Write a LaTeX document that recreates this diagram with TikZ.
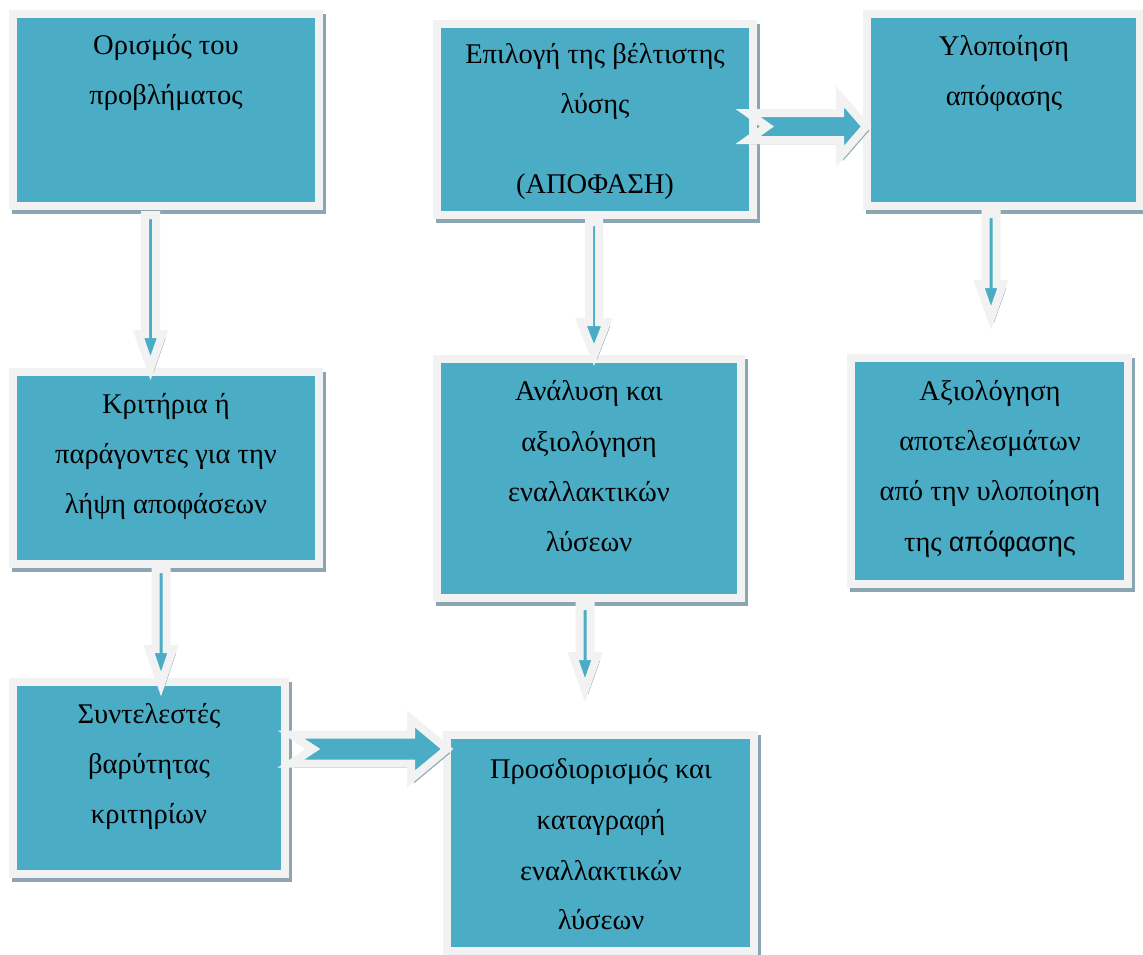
\documentclass[tikz,border=0pt]{standalone}
\usepackage{fontspec}
\setmainfont{Liberation Serif}
\newfontfamily\sansgr{Liberation Sans}
\usetikzlibrary{calc}
\definecolor{boxblue}{HTML}{4BACC6}
\definecolor{frameg}{HTML}{F2F2F2}
\definecolor{shadowc}{HTML}{8BA6B2}
\tikzset{
  shad/.style={preaction={draw=shadowc, fill=shadowc, transform canvas={xshift=3pt,yshift=-4pt}}},
  box/.style={shape=rectangle, draw=frameg, fill=boxblue, line width=8pt, inner sep=0pt, outer sep=0pt, shad},
  blk/.style={draw=frameg, fill=boxblue, line width=8pt, line join=miter, miter limit=20, shad},
  txt/.style={anchor=base, inner sep=0pt, font=\fontsize{28.5}{34}\selectfont}
}
\newcommand\vblk[5]{%
  \draw[blk] let \p1=(#1), \p2=(#2) in
    (\x1-#3pt,\y1) -- (\x1-#3pt,\y2+#5pt) -- (\x1-#4pt,\y2+#5pt) -- (\x1,\y2)
    -- (\x1+#4pt,\y2+#5pt) -- (\x1+#3pt,\y2+#5pt) -- (\x1+#3pt,\y1) -- cycle;}
\newcommand\hblk[6]{%
  \draw[blk] let \p1=(#1), \p2=(#2) in
    (\x1,\y1+#3pt) -- (\x2-#5pt,\y1+#3pt) -- (\x2-#5pt,\y1+#4pt) -- (\x2,\y1)
    -- (\x2-#5pt,\y1-#4pt) -- (\x2-#5pt,\y1-#3pt) -- (\x1,\y1-#3pt) -- (\x1+#6pt,\y1) -- cycle;}
\begin{document}
\begin{tikzpicture}[x=1pt,y=-1pt]
\useasboundingbox (0,0) rectangle (1143,954);
% boxes
\node[box, minimum width=306pt, minimum height=192pt] (b1) at (166,110) {};
\node[box, minimum width=306pt, minimum height=192pt] (b2) at (166,468) {};
\node[box, minimum width=272pt, minimum height=192pt] (b3) at (149,778) {};
\node[box, minimum width=316pt, minimum height=191pt] (b4) at (595,119.5) {};
\node[box, minimum width=304pt, minimum height=239pt] (b5) at (589,478.5) {};
\node[box, minimum width=307pt, minimum height=216pt] (b6) at (600.5,843) {};
\node[box, minimum width=273pt, minimum height=192pt] (b7) at (1003.5,110) {};
\node[box, minimum width=277pt, minimum height=226pt] (b8) at (989.5,471) {};
% texts
\node[txt] (t1a) at (166,54) {Ορισμός του};
\node[txt] (t1b) at (166,104) {προβλήματος};
\node[txt] (t2a) at (166,413) {Κριτήρια ή};
\node[txt] (t2b) at (166,463) {παράγοντες για την};
\node[txt] (t2c) at (166,513) {λήψη αποφάσεων};
\node[txt] (t3a) at (149,723) {Συντελεστές};
\node[txt] (t3b) at (149,773) {βαρύτητας};
\node[txt] (t3c) at (149,823) {κριτηρίων};
\node[txt] (t4a) at (595,63) {Επιλογή της βέλτιστης};
\node[txt] (t4b) at (595,113) {λύσης};
\node[txt] (t4c) at (595,193) {(ΑΠΟΦΑΣΗ)};
\node[txt] (t5a) at (589,400) {Ανάλυση και};
\node[txt] (t5b) at (589,451) {αξιολόγηση};
\node[txt] (t5c) at (589,501) {εναλλακτικών};
\node[txt] (t5d) at (589,551) {λύσεων};
\node[txt] (t6a) at (601,778) {Προσδιορισμός και};
\node[txt] (t6b) at (601,829) {καταγραφή};
\node[txt] (t6c) at (601,880) {εναλλακτικών};
\node[txt] (t6d) at (601,929) {λύσεων};
\node[txt] (t7a) at (1004,55) {Υλοποίηση};
\node[txt] (t7b) at (1004,105) {απόφασης};
\node[txt] (t8a) at (990,400) {Αξιολόγηση};
\node[txt] (t8b) at (990,450) {αποτελεσμάτων};
\node[txt] (t8c) at (990,500) {από την υλοποίηση};
\node[txt] (t8d) at (990,551) {της {\sansgr\fontsize{27}{34}\selectfont απόφασης}};
% arrows
\vblk{$(b1.south)+(-15.5,9)$}{$(b2.north)+(-15.5,-4)$}{5.5}{12}{34}
\vblk{$(b2.south)+(-5,5)$}{$(b3.north)+(12,2)$}{5.5}{12}{35}
\vblk{$(b4.south)+(-1,7)$}{$(b5.north)+(5,-4)$}{5}{13}{33}
\vblk{$(b5.south)+(-4,8)$}{$(b6.north)+(-15.5,-45)$}{5.5}{12}{34}
\vblk{$(b7.south)+(-12.5,8)$}{$(b8.north)+(1.5,-40)$}{5.5}{12}{34}
\hblk{$(b4.east)+(-5,7)$}{$(b7.west)+(-1,0)$}{13.5}{30}{26}{19}
\hblk{$(b3.east)+(6,-29)$}{$(b6.west)$}{14.5}{30}{36}{22}
\end{tikzpicture}
\end{document}
